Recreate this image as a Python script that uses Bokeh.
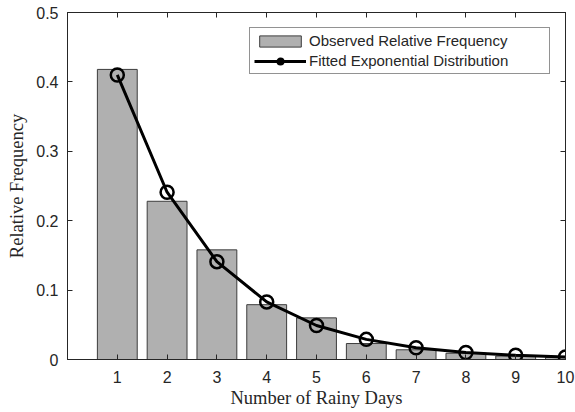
from bokeh.plotting import figure
from bokeh.models import (ColumnDataSource, LinearAxis, FixedTicker, Range1d,
                          Legend, LegendItem, CustomLabelingPolicy)
from bokeh.embed import file_html
from bokeh.resources import INLINE

days = [1, 2, 3, 4, 5, 6, 7, 8, 9, 10]
observed = [0.418, 0.228, 0.158, 0.079, 0.060, 0.023, 0.014, 0.009, 0.005, 0.003]
fitted = [0.410, 0.241, 0.141, 0.083, 0.049, 0.029, 0.017, 0.010, 0.006, 0.0035]
y_ticks = [0, 0.1, 0.2, 0.3, 0.4, 0.5]

src = ColumnDataSource(dict(x=days, obs=observed, fit=fitted))

p = figure(width=575, height=412, output_backend="svg", toolbar_location=None,
           x_range=Range1d(0, 10), y_range=Range1d(0, 0.5),
           min_border_left=67, min_border_right=10, min_border_top=12,
           min_border_bottom=53, x_axis_location=None, y_axis_location=None)
p.title.visible = False
p.frame_width = 498
p.frame_height = 347
p.xgrid.visible = False
p.ygrid.visible = False
p.outline_line_color = "#262626"
p.outline_line_width = 1
p.background_fill_color = "white"
p.border_fill_color = "white"

bars = p.vbar(x="x", top="obs", width=0.8, bottom=0, source=src,
              fill_color="#b0b0b0", line_color="#3c3c3c", line_width=1)
ln = p.line(x="x", y="fit", source=src, line_color="black", line_width=3)
mk = p.scatter(x="x", y="fit", source=src, marker="circle", size=13,
               fill_color=None, line_color="black", line_width=2.5)

no_labels = CustomLabelingPolicy(code="""
for (const i of Array.from(indices)) { indices.unset(i) }
return indices
""")

def mk_axis(labels):
    ax = LinearAxis()
    ax.major_tick_in = 5
    ax.major_tick_out = 0
    ax.minor_tick_in = 0
    ax.minor_tick_out = 0
    ax.axis_line_color = "#262626"
    ax.major_tick_line_color = "#262626"
    ax.major_label_text_font = "Liberation Sans"
    ax.major_label_text_font_size = "16px"
    ax.major_label_text_color = "#262626"
    ax.major_label_standoff = 9
    if not labels:
        ax.major_label_policy = no_labels
        ax.major_label_text_font_size = "0px"
        ax.major_label_standoff = 0
    return ax

xb = mk_axis(True)
xb.ticker = FixedTicker(ticks=days)
xb.major_label_standoff = 11
xb.axis_label = "Number of Rainy Days"
xb.axis_label_text_font = "Liberation Serif"
xb.axis_label_text_font_style = "normal"
xb.axis_label_text_font_size = "18.5px"
xb.axis_label_text_color = "#262626"
xb.axis_label_standoff = 2
p.add_layout(xb, "below")

yl = mk_axis(True)
yl.ticker = FixedTicker(ticks=y_ticks)
yl.major_label_overrides = {0: "0"}
yl.axis_label = "Relative Frequency"
yl.axis_label_text_font = "Liberation Serif"
yl.axis_label_text_font_style = "normal"
yl.axis_label_text_font_size = "18.5px"
yl.axis_label_text_color = "#262626"
yl.axis_label_standoff = 6
p.add_layout(yl, "left")

xt = mk_axis(False)
xt.ticker = FixedTicker(ticks=days)
p.add_layout(xt, "above")

yr = mk_axis(False)
yr.ticker = FixedTicker(ticks=y_ticks)
p.add_layout(yr, "right")

legend = Legend(items=[
    LegendItem(label="Observed Relative Frequency", renderers=[bars]),
    LegendItem(label="Fitted Exponential Distribution", renderers=[ln, mk]),
], location="top_right")
legend.margin = 15
legend.padding = 4
legend.spacing = 3
legend.glyph_width = 52
legend.glyph_height = 14
legend.label_height = 14
legend.label_width = 236
legend.label_text_font = "Liberation Sans"
legend.label_text_font_size = "15px"
legend.label_text_color = "#262626"
legend.label_standoff = 3
legend.border_line_color = "#262626"
legend.border_line_width = 1
legend.background_fill_alpha = 1
p.add_layout(legend, "center")

open("out.html", "w").write(file_html(p, INLINE))
